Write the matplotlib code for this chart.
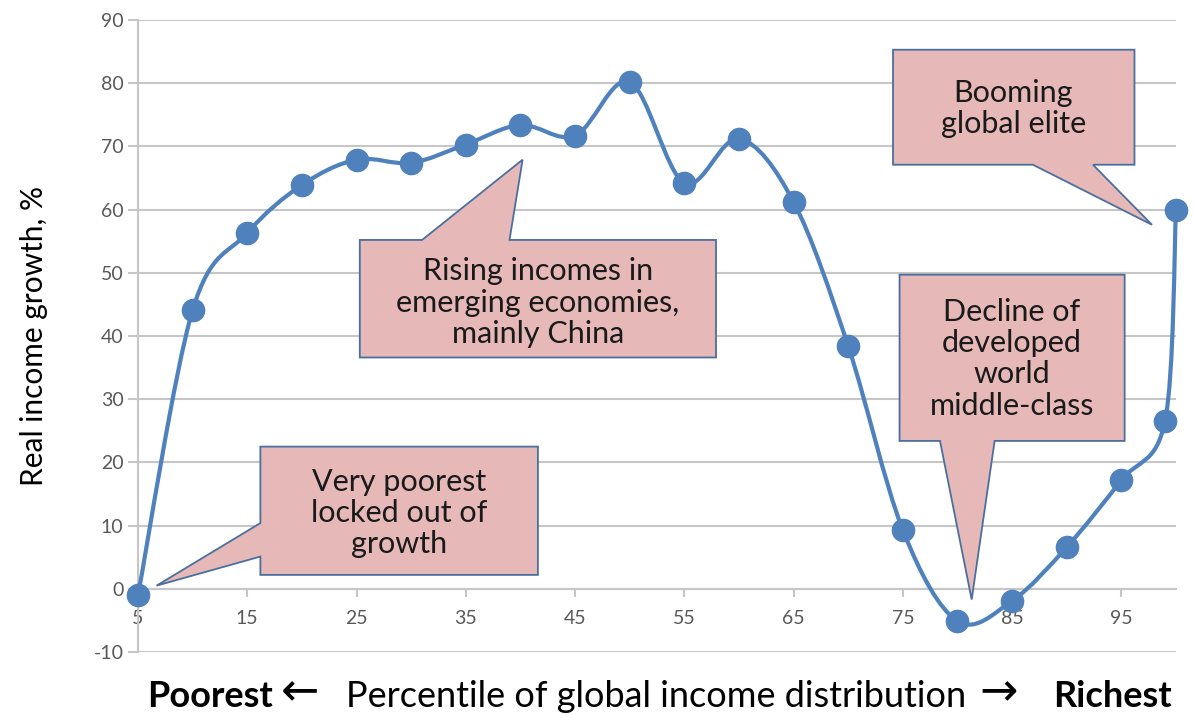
import numpy as np
import matplotlib
matplotlib.use("Agg")
import matplotlib.pyplot as plt
from matplotlib.path import Path
from matplotlib.patches import PathPatch, Polygon

plt.rcParams['font.family'] = ['Lato', 'DejaVu Sans']
plt.rcParams['axes.unicode_minus'] = False

# data
percentile = [5, 10, 15, 20, 25, 30, 35, 40, 45, 50, 55, 60, 65, 70, 75, 80, 85, 90, 95, 99, 100]
growth = [-1, 44.1, 56.3, 63.9, 67.9, 67.4, 70.3, 73.4, 71.7, 80.2, 64.2, 71.2,
          61.2, 38.4, 9.3, -5.1, -1.9, 6.6, 17.2, 26.6, 60]
x_ticks = [5, 15, 25, 35, 45, 55, 65, 75, 85, 95]
y_ticks = list(range(-10, 91, 10))

# callouts: box (x0, x1, y0, y1), pointer polygon inserted on an edge, label
callouts = [
    dict(box=(16.2, 41.6, 2.2, 22.5), edge='left', base=(10.4, 5.1), tip=(6.7, 0.5),
         text="Very poorest\nlocked out of\ngrowth", pos=(28.9, 12.0)),
    dict(box=(25.3, 57.9, 36.6, 55.2), edge='top', base=(31.0, 39.0), tip=(40.2, 67.9),
         text="Rising incomes in\nemerging economies,\nmainly China", pos=(41.6, 45.3)),
    dict(box=(74.7, 95.3, 23.4, 49.7), edge='bottom', base=(78.4, 83.4), tip=(81.3, -1.7),
         text="Decline of\ndeveloped\nworld\nmiddle-class", pos=(85.0, 36.4)),
    dict(box=(74.1, 96.2, 67.1, 85.3), edge='bottom', base=(86.9, 92.4), tip=(97.8, 57.6),
         text="Booming\nglobal elite", pos=(85.1, 76.0)),
]

LINE = '#4f81bd'
GRID = '#c6c6c6'
FILL = '#e6b9b8'
EDGE = '#4a6f9f'

fig = plt.figure(figsize=(11.94, 7.15), dpi=100)
ax = fig.add_axes([138 / 1194, 1 - 652 / 715, 1038 / 1194, 632 / 715])
ax.set_xlim(5, 100)
ax.set_ylim(-10, 90)

for s in ['top', 'right']:
    ax.spines[s].set_visible(False)
ax.spines['left'].set_color(GRID)
ax.spines['left'].set_linewidth(1.5)
ax.spines['bottom'].set_position(('data', 0))
ax.spines['bottom'].set_color(GRID)
ax.spines['bottom'].set_linewidth(1.5)

ax.set_yticks(y_ticks)
ax.set_xticks(x_ticks)
ax.tick_params(axis='y', colors=GRID, labelcolor='#595959', labelsize=14, length=7, width=1.5)
ax.tick_params(axis='x', colors=GRID, labelcolor='#595959', labelsize=14, length=6, width=1.5, pad=9)
ax.grid(axis='y', color=GRID, lw=1.5, zorder=0)
ax.set_axisbelow(True)

# smoothed line like Excel (Catmull-Rom as cubic Bezier)
P = np.column_stack([percentile, growth])
n = len(P)
verts = [P[0]]
codes = [Path.MOVETO]
for i in range(n - 1):
    p0 = P[max(i - 1, 0)]
    p1 = P[i]
    p2 = P[i + 1]
    p3 = P[min(i + 2, n - 1)]
    c1 = p1 + (p2 - p0) / 6
    c2 = p2 - (p3 - p1) / 6
    verts += [c1, c2, p2]
    codes += [Path.CURVE4] * 3
ax.add_patch(PathPatch(Path(verts, codes), fill=False, ec=LINE, lw=3, zorder=3,
                       clip_on=False))
ax.plot(percentile, growth, 'o', color=LINE, ms=16, zorder=4, clip_on=False)

# callout boxes
for c in callouts:
    x0, x1, y0, y1 = c['box']
    a, b = c['base']
    if c['edge'] == 'left':
        pts = [(x0, y1), (x1, y1), (x1, y0), (x0, y0), (x0, b), c['tip'], (x0, a)]
    elif c['edge'] == 'top':
        pts = [(x0, y1), (a, y1), c['tip'], (b, y1), (x1, y1), (x1, y0), (x0, y0)]
    else:
        pts = [(x0, y1), (x1, y1), (x1, y0), (b, y0), c['tip'], (a, y0), (x0, y0)]
    ax.add_patch(Polygon(pts, closed=True, fc=FILL, ec=EDGE, lw=1.3, zorder=5,
                         clip_on=False))
    ax.text(c['pos'][0], c['pos'][1], c['text'], ha='center', va='center',
            fontsize=22, color='#1a1a1a', linespacing=1.15, zorder=6)

ax.set_ylabel("Real income growth, %", fontsize=21.5, color='black')
ax.yaxis.set_label_coords(-0.087, 0.5)

# x axis title with bold ends
base_y = 1 - 707 / 715
fig.text(147 / 1194, base_y, "Poorest", fontsize=26, fontweight='bold',
         ha='left', va='baseline')
fig.text(300 / 1194, base_y + 0.003, "\u2190", fontsize=33, ha='center', va='baseline',
         family='DejaVu Sans')
fig.text(656 / 1194, base_y, "Percentile of global income distribution",
         fontsize=26, ha='center', va='baseline')
fig.text(999 / 1194, base_y + 0.003, "\u2192", fontsize=33, ha='center', va='baseline',
         family='DejaVu Sans')
fig.text(1172 / 1194, base_y, "Richest", fontsize=26, fontweight='bold',
         ha='right', va='baseline')

fig.savefig("out.png", dpi=100)
